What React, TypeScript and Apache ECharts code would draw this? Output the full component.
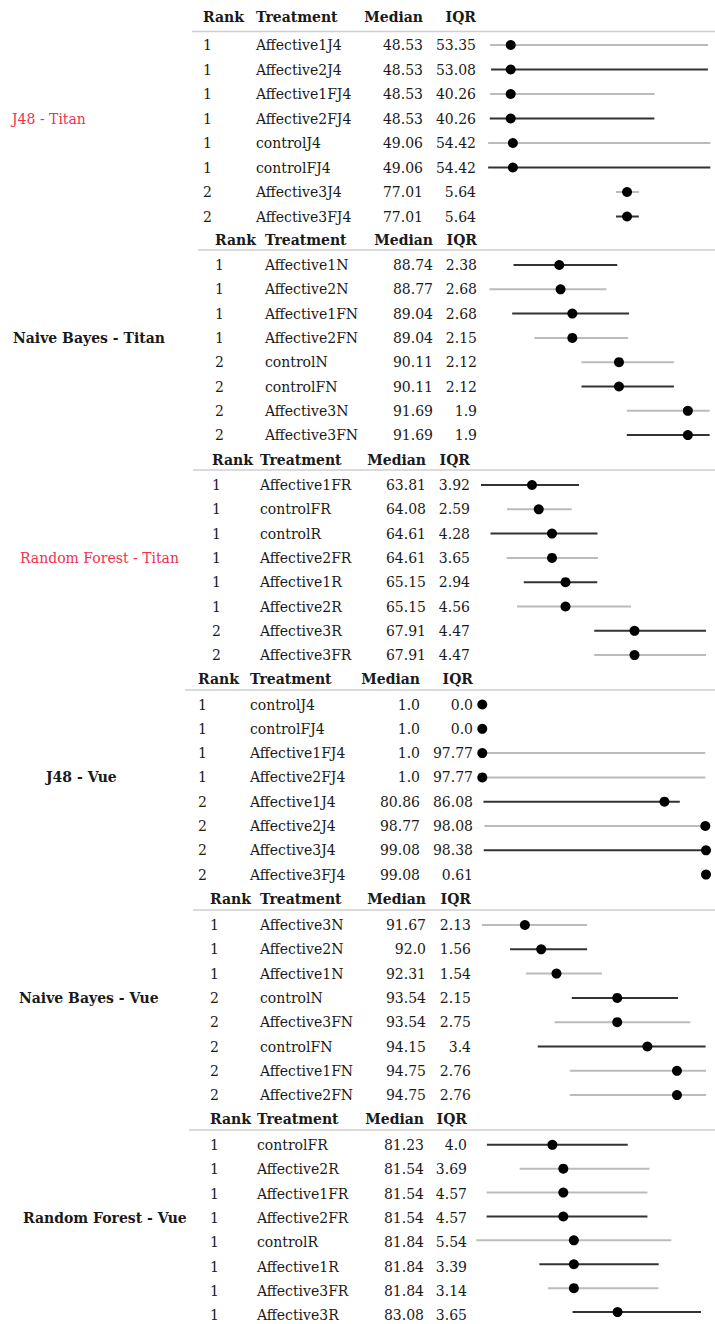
import React, { useEffect, useRef } from "react";
import * as echarts from "echarts";

// ---------- data ----------
const sectionTitles = [
  "J48 - Titan",
  "Naive Bayes - Titan",
  "Random Forest - Titan",
  "J48 - Vue",
  "Naive Bayes - Vue",
  "Random Forest - Vue",
];
const titleHighlighted = [true, false, true, false, false, false];
const headers = ["Rank", "Treatment", "Median", "IQR"];

const ranks = [
  [1, 1, 1, 1, 1, 1, 2, 2],
  [1, 1, 1, 1, 2, 2, 2, 2],
  [1, 1, 1, 1, 1, 1, 2, 2],
  [1, 1, 1, 1, 2, 2, 2, 2],
  [1, 1, 1, 2, 2, 2, 2, 2],
  [1, 1, 1, 1, 1, 1, 1, 1],
];
const treatments = [
  ["Affective1J4", "Affective2J4", "Affective1FJ4", "Affective2FJ4", "controlJ4", "controlFJ4", "Affective3J4", "Affective3FJ4"],
  ["Affective1N", "Affective2N", "Affective1FN", "Affective2FN", "controlN", "controlFN", "Affective3N", "Affective3FN"],
  ["Affective1FR", "controlFR", "controlR", "Affective2FR", "Affective1R", "Affective2R", "Affective3R", "Affective3FR"],
  ["controlJ4", "controlFJ4", "Affective1FJ4", "Affective2FJ4", "Affective1J4", "Affective2J4", "Affective3J4", "Affective3FJ4"],
  ["Affective3N", "Affective2N", "Affective1N", "controlN", "Affective3FN", "controlFN", "Affective1FN", "Affective2FN"],
  ["controlFR", "Affective2R", "Affective1FR", "Affective2FR", "controlR", "Affective1R", "Affective3FR", "Affective3R"],
];
const medians = [
  [48.53, 48.53, 48.53, 48.53, 49.06, 49.06, 77.01, 77.01],
  [88.74, 88.77, 89.04, 89.04, 90.11, 90.11, 91.69, 91.69],
  [63.81, 64.08, 64.61, 64.61, 65.15, 65.15, 67.91, 67.91],
  [1.0, 1.0, 1.0, 1.0, 80.86, 98.77, 99.08, 99.08],
  [91.67, 92.0, 92.31, 93.54, 93.54, 94.15, 94.75, 94.75],
  [81.23, 81.54, 81.54, 81.54, 81.84, 81.84, 81.84, 83.08],
];
const iqrs = [
  [53.35, 53.08, 40.26, 40.26, 54.42, 54.42, 5.64, 5.64],
  [2.38, 2.68, 2.68, 2.15, 2.12, 2.12, 1.9, 1.9],
  [3.92, 2.59, 4.28, 3.65, 2.94, 4.56, 4.47, 4.47],
  [0.0, 0.0, 97.77, 97.77, 86.08, 98.08, 98.38, 0.61],
  [2.13, 1.56, 1.54, 2.15, 2.75, 3.4, 2.76, 2.76],
  [4.0, 3.69, 4.57, 4.57, 5.54, 3.39, 3.14, 3.65],
];
// lower / upper quartile
const lows = [
  [43.5, 43.7, 43.5, 43.4, 43.0, 43.0, 74.3, 74.3],
  [87.69, 87.14, 87.66, 88.17, 89.25, 89.25, 90.29, 90.29],
  [61.77, 62.81, 62.15, 62.8, 63.48, 63.21, 66.3, 66.3],
  [1.0, 1.0, 1.0, 1.0, 1.5, 1.92, 1.62, 98.77],
  [90.8, 91.37, 91.69, 92.62, 92.27, 91.93, 92.58, 92.58],
  [79.37, 80.3, 79.36, 79.36, 79.07, 80.86, 81.1, 81.8],
];
const highs = [
  [96.85, 96.8, 83.8, 83.7, 97.4, 97.4, 79.9, 79.9],
  [90.07, 89.82, 90.34, 90.32, 91.37, 91.37, 92.19, 92.19],
  [65.69, 65.4, 66.43, 66.45, 66.42, 67.77, 70.77, 70.77],
  [1.0, 1.0, 98.77, 98.77, 87.58, 100, 100, 99.38],
  [92.93, 92.93, 93.23, 94.77, 95.02, 95.33, 95.34, 95.34],
  [83.37, 83.99, 83.93, 83.93, 84.61, 84.25, 84.24, 85.45],
];
// 1 = dark line, 0 = light line
const lineShade = [
  [0, 1, 0, 1, 0, 1, 0, 1],
  [1, 0, 1, 0, 0, 1, 0, 1],
  [1, 0, 1, 0, 1, 0, 1, 0],
  [0, 0, 0, 0, 1, 0, 1, 1],
  [0, 1, 0, 1, 0, 1, 0, 0],
  [1, 0, 0, 1, 0, 1, 0, 1],
];
const axisMins = [40.03, 86.83, 61.57, -1.76, 90.68, 79.06];
const axisMaxs = [98.3, 92.29, 71.09, 102.58, 95.5, 85.82];

// ---------- layout ----------
const layout = [
  { header: 17, sep: 31.5, first: 45, step: 24.5, sepX: 192, labelX: 12, cols: [203, 256, 423, 476] },
  { header: 240, sep: 250, first: 265, step: 24.3, sepX: 198, labelX: 13, cols: [215, 265, 433, 477] },
  { header: 460, sep: 470, first: 485, step: 24.3, sepX: 193, labelX: 20, cols: [212, 260, 426, 470] },
  { header: 679, sep: 690, first: 704.5, step: 24.3, sepX: 185, labelX: 46, cols: [198, 250, 420, 473] },
  { header: 899, sep: 910, first: 925, step: 24.3, sepX: 193, labelX: 19, cols: [210, 260, 426, 471] },
  { header: 1119, sep: 1130, first: 1145, step: 24.3, sepX: 189, labelX: 23, cols: [210, 257, 424, 467] },
];
const GRID_LEFT = 476;
const GRID_WIDTH = 238;
const FONT = "'DejaVu Serif', serif";
const TEXT = "#1a1a1a";
const RED = "#f0304f";
const LIGHT = "#bbbbbb";
const DARK = "#333333";

const fmt = (v: number) => (Number.isInteger(v) ? v.toFixed(1) : String(v));

export default function App() {
  const ref = useRef<HTMLDivElement>(null);
  useEffect(() => {
    if (!ref.current) return;
    const chart = echarts.init(ref.current, null, { renderer: "svg" });

    const grids: any[] = [];
    const xAxes: any[] = [];
    const yAxes: any[] = [];
    const series: any[] = [];
    const graphics: any[] = [];

    sectionTitles.forEach((title, s) => {
      const L = layout[s];
      const n = treatments[s].length;
      grids.push({
        left: GRID_LEFT,
        width: GRID_WIDTH,
        top: L.first - L.step / 2,
        height: L.step * n,
      });
      xAxes.push({
        type: "value",
        gridIndex: s,
        min: axisMins[s],
        max: axisMaxs[s],
        show: false,
      });
      yAxes.push({
        type: "category",
        gridIndex: s,
        inverse: true,
        data: treatments[s].map((_, i) => String(i)),
        show: false,
      });
      series.push({
        type: "custom",
        xAxisIndex: s,
        yAxisIndex: s,
        encode: { x: [0, 1, 2], y: 3 },
        data: treatments[s].map((_, i) => [lows[s][i], medians[s][i], highs[s][i], i, lineShade[s][i]]),
        renderItem: (params: any, api: any) => {
          const lo = api.coord([api.value(0), api.value(3)]);
          const md = api.coord([api.value(1), api.value(3)]);
          const hi = api.coord([api.value(2), api.value(3)]);
          const dark = api.value(4) === 1;
          return {
            type: "group",
            children: [
              {
                type: "line",
                shape: { x1: lo[0], y1: lo[1], x2: hi[0], y2: hi[1] },
                style: { stroke: dark ? DARK : LIGHT, lineWidth: 2 },
              },
              {
                type: "circle",
                shape: { cx: md[0], cy: md[1], r: 5 },
                style: { fill: "#000" },
              },
            ],
          };
        },
      });

      // headers
      const hAlign = ["left", "left", "right", "right"];
      headers.forEach((h, c) => {
        graphics.push({
          type: "text",
          x: L.cols[c],
          y: L.header,
          style: {
            text: h,
            font: `bold 14px ${FONT}`,
            fill: TEXT,
            align: hAlign[c],
            verticalAlign: "middle",
          },
        });
      });
      graphics.push({
        type: "line",
        shape: { x1: L.sepX, y1: L.sep, x2: 715, y2: L.sep },
        style: { stroke: "#cfcfcf", lineWidth: 1.5 },
      });
      // section title
      graphics.push({
        type: "text",
        x: L.labelX,
        y: L.first + 3 * L.step,
        style: {
          text: title,
          font: `${titleHighlighted[s] ? "normal" : "bold"} 14px ${FONT}`,
          fill: titleHighlighted[s] ? RED : TEXT,
          align: "left",
          verticalAlign: "middle",
        },
      });
      // rows
      treatments[s].forEach((t, i) => {
        const y = L.first + i * L.step;
        const cells = [String(ranks[s][i]), t, fmt(medians[s][i]), fmt(iqrs[s][i])];
        cells.forEach((txt, c) => {
          graphics.push({
            type: "text",
            x: L.cols[c],
            y,
            style: {
              text: txt,
              font: `14px ${FONT}`,
              fill: TEXT,
              align: hAlign[c],
              verticalAlign: "middle",
            },
          });
        });
      });
    });

    chart.setOption({
      animation: false,
      backgroundColor: "#ffffff",
      grid: grids,
      xAxis: xAxes,
      yAxis: yAxes,
      series,
      graphic: graphics,
    });
    return () => chart.dispose();
  }, []);

  return (
    <div
      ref={ref}
      style={{ position: "absolute", left: 0, top: 0, width: 715, height: 1324, background: "#fff" }}
    />
  );
}
